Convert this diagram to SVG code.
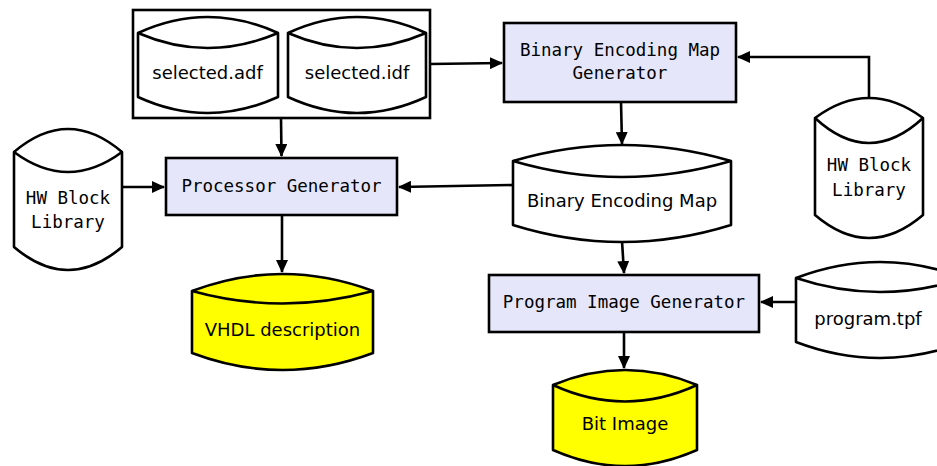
<svg xmlns="http://www.w3.org/2000/svg" width="937" height="466" viewBox="0 0 937 466">
<style>
.s{fill:none;stroke:#000;stroke-width:2.6;stroke-linejoin:round}
.db{fill:#fff;stroke:#000;stroke-width:2.6;stroke-linejoin:round}
.out{fill:#ffff00;stroke:#000;stroke-width:2.6;stroke-linejoin:round}
.box{fill:#e6e6fa;stroke:#000;stroke-width:2.6}
.c{fill:none;stroke:#000;stroke-width:2.6}
.sans{font-family:"DejaVu Sans","Liberation Sans",sans-serif;font-size:18px;text-anchor:middle;dominant-baseline:central}
.mono{font-family:"DejaVu Sans Mono","Liberation Mono",monospace;font-size:17.5px;text-anchor:middle;dominant-baseline:central}
</style>
<defs>
<marker id="ah" markerWidth="13" markerHeight="12" refX="12" refY="6" orient="auto" markerUnits="userSpaceOnUse">
<path d="M0,0 L13,6 L0,12 Z" fill="#000"/>
</marker>
</defs>
<g id="connectors">
<path class="c" d="M430,64 L502,63" marker-end="url(#ah)"/>
<path class="c" d="M281,118 L281.5,156" marker-end="url(#ah)"/>
<path class="c" d="M122,187 L164,187" marker-end="url(#ah)"/>
<path class="c" d="M282,215 L282,272" marker-end="url(#ah)"/>
<path class="c" d="M869,97 L869,57 L738,57" marker-end="url(#ah)"/>
<path class="c" d="M621,102 L622,144" marker-end="url(#ah)"/>
<path class="c" d="M513,185 L399,187" marker-end="url(#ah)"/>
<path class="c" d="M622,241 L624,273" marker-end="url(#ah)"/>
<path class="c" d="M796,302 L761,302" marker-end="url(#ah)"/>
<path class="c" d="M624,332 L624,368" marker-end="url(#ah)"/>
</g>
<g id="inputs">
<rect x="133" y="10" width="297" height="108" fill="#fff" stroke="#000" stroke-width="2.6"/>
<g id="selected-adf">
<path class="db" d="M138,33 L138,97 Q207.5,129 278,97 L278,33 Q207.5,1 138,33 Z"/>
<path class="s" d="M138,33 Q207.5,63 278,33"/>
<text class="sans" x="207.5" y="72">selected.adf</text>
</g>
<g id="selected-idf">
<path class="db" d="M288,33 L288,97 Q357,129 426,97 L426,33 Q357,1 288,33 Z"/>
<path class="s" d="M288,33 Q357,63 426,33"/>
<text class="sans" x="357" y="72">selected.idf</text>
</g>
</g>
<g id="hw-block-library-left">
<path class="db" d="M14,152 L14,247 Q68,293 122,247 L122,152 Q68,106 14,152 Z"/>
<path class="s" d="M14,152 Q68,192 122,152"/>
<text class="mono" x="68" y="198">HW Block</text>
<text class="mono" x="68" y="222">Library</text>
</g>
<g id="processor-generator">
<rect class="box" x="166" y="158" width="231" height="57"/>
<text class="mono" x="281.5" y="186">Processor Generator</text>
</g>
<g id="vhdl-description">
<path class="out" d="M192,291 L192,353 Q282.5,387 373,353 L373,291 Q282.5,257 192,291 Z"/>
<path class="s" d="M192,291 Q282.5,316 373,291"/>
<text class="sans" x="282.5" y="329">VHDL description</text>
</g>
<g id="binary-encoding-map-generator">
<rect class="box" x="504" y="23" width="232" height="79"/>
<text class="mono" x="620" y="50">Binary Encoding Map</text>
<text class="mono" x="620" y="73">Generator</text>
</g>
<g id="hw-block-library-right">
<path class="db" d="M815,118 L815,215 Q869,261 923,215 L923,118 Q869,78 815,118 Z"/>
<path class="s" d="M815,118 Q869,168 923,118"/>
<text class="mono" x="869" y="165">HW Block</text>
<text class="mono" x="869" y="190">Library</text>
</g>
<g id="binary-encoding-map">
<path class="db" d="M513,161 L513,225 Q622,259 731,225 L731,161 Q622,129 513,161 Z"/>
<path class="s" d="M513,161 Q622,193 731,161"/>
<text class="sans" x="622" y="200">Binary Encoding Map</text>
</g>
<g id="program-image-generator">
<rect class="box" x="489" y="275" width="270" height="57"/>
<text class="mono" x="624" y="302">Program Image Generator</text>
</g>
<g id="program-tpf">
<path class="db" d="M796,278 L796,342 Q880,374 964,342 L964,278 Q880,246 796,278 Z"/>
<path class="s" d="M796,278 Q880,306 964,278"/>
<text class="sans" x="868" y="318">program.tpf</text>
</g>
<g id="bit-image">
<path class="out" d="M553,385 L553,450 Q625,482 697,450 L697,385 Q625,355 553,385 Z"/>
<path class="s" d="M553,385 Q625,418 697,385"/>
<text class="sans" x="625" y="423">Bit Image</text>
</g>
</svg>
